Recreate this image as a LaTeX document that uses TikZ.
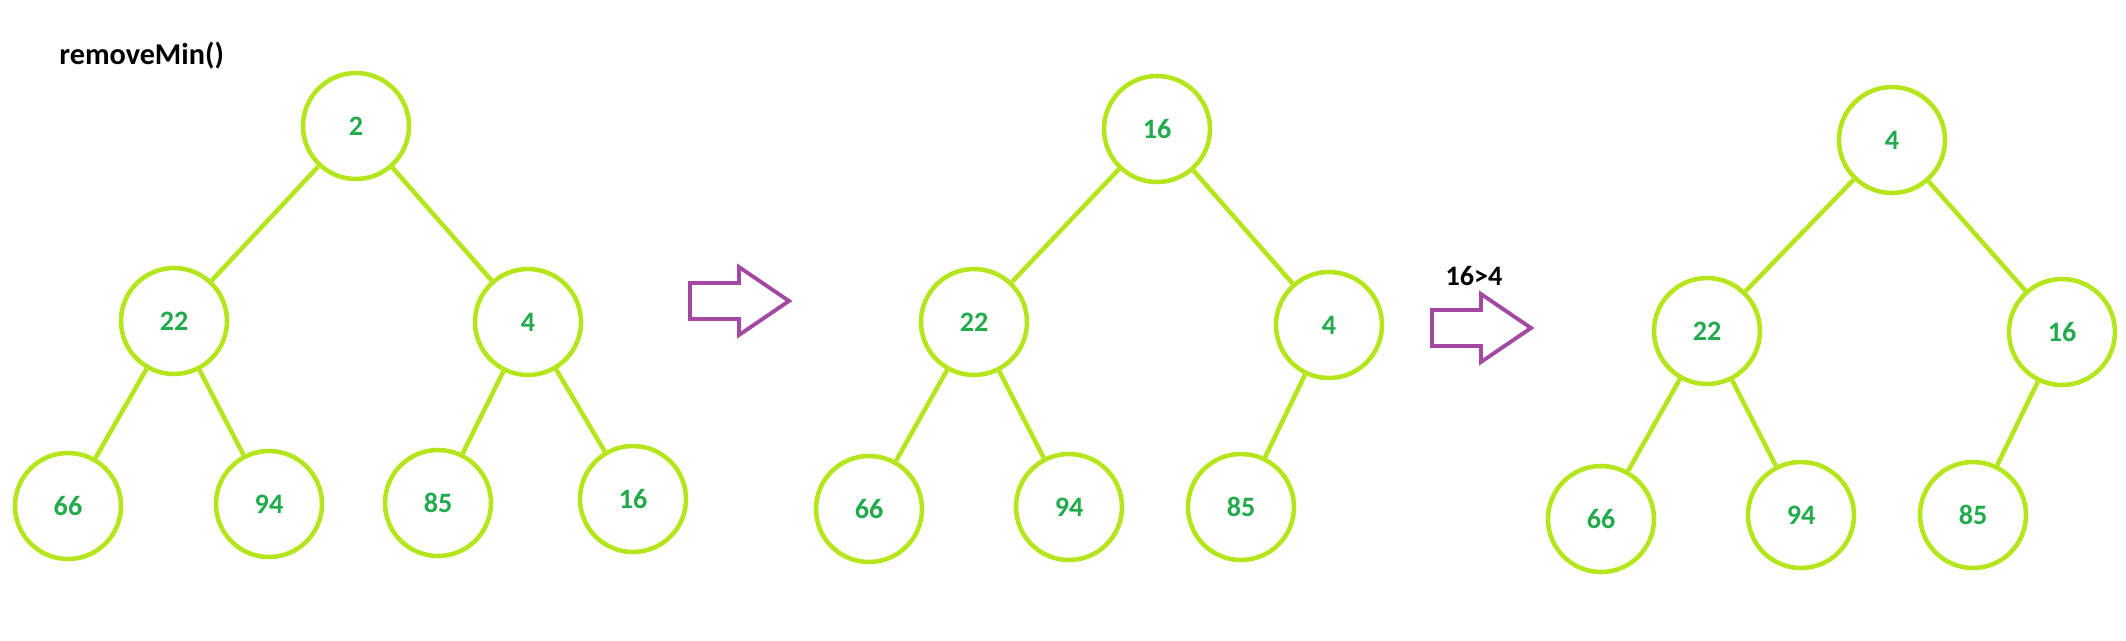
\documentclass[tikz,border=0pt]{standalone}
\usepackage{fontspec}
\setmainfont{Carlito}
\usepackage{tikz}

\definecolor{heaplime}{RGB}{181,230,29}
\definecolor{numgreen}{RGB}{34,170,76}
\definecolor{arrowpurple}{RGB}{163,73,164}

\begin{document}
\begin{tikzpicture}[every node/.style={font=\bfseries\fontsize{8}{9}\selectfont}, % 太字
  key/.style={circle, draw=heaplime, line width=1.3pt, minimum size=1.06cm, inner sep=0pt, text=numgreen}, % ヒープの節
  link/.style={draw=heaplime, line width=1.3pt}, % 枝
  fatarrow/.style={draw=arrowpurple, line width=1.1pt, line join=miter}] % 白抜き矢印
  \useasboundingbox (0,0) rectangle (21.26,6.40); % 余白込みの大きさ
  \node[anchor=west, font=\bfseries\fontsize{8.6}{10}\selectfont] (title) at (0.47,5.84) {removeMin()}; % 見出し

  % 削除前
  \node[key] (a2) at (3.56,5.14) {2};
  \node[key] (a22) at (1.74,3.19) {22};
  \node[key] (a4) at (5.28,3.18) {4};
  \node[key] (a66) at (0.68,1.34) {66};
  \node[key] (a94) at (2.69,1.36) {94};
  \node[key] (a85) at (4.38,1.37) {85};
  \node[key] (a16) at (6.33,1.41) {16};
  \draw[link] (a2)--(a22) (a2)--(a4) (a22)--(a66) (a22)--(a94) (a4)--(a85) (a4)--(a16); % 親子をつなぐ

  % 末尾の16を根へ
  \node[key] (b16) at (11.57,5.11) {16};
  \node[key] (b22) at (9.74,3.18) {22};
  \node[key] (b4) at (13.29,3.15) {4};
  \node[key] (b66) at (8.69,1.31) {66};
  \node[key] (b94) at (10.69,1.33) {94};
  \node[key] (b85) at (12.41,1.33) {85};
  \draw[link] (b16)--(b22) (b16)--(b4) (b22)--(b66) (b22)--(b94) (b4)--(b85);

  \node (cmp) at (14.74,3.64) {16>4}; % 比較

  % 入れ替え後
  \node[key] (c4) at (18.92,5.00) {4};
  \node[key] (c22) at (17.07,3.09) {22};
  \node[key] (c16) at (20.62,3.08) {16};
  \node[key] (c66) at (16.01,1.21) {66};
  \node[key] (c94) at (18.01,1.25) {94};
  \node[key] (c85) at (19.73,1.25) {85};
  \draw[link] (c4)--(c22) (c4)--(c16) (c22)--(c66) (c22)--(c94) (c16)--(c85);

  \foreach \x/\y in {6.90/3.39, 14.32/3.12} % 矢印の左端
    \draw[fatarrow] (\x,\y) ++(0,0.18) -- ++(0.49,0) -- ++(0,0.16) -- ++(0.50,-0.34)
      -- ++(-0.50,-0.34) -- ++(0,0.16) -- ++(-0.49,0) -- cycle;

\end{tikzpicture}
\end{document}
